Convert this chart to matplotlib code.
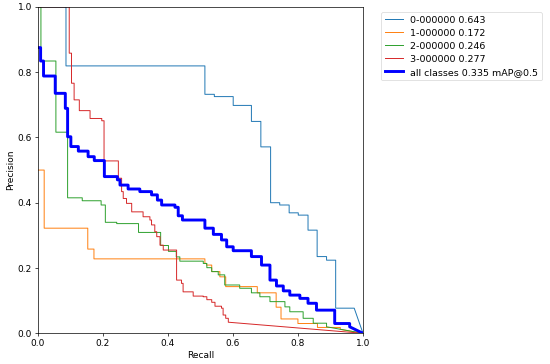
import matplotlib
matplotlib.use('Agg')
import matplotlib.pyplot as plt

# step breakpoints: precision p[i] holds from recall r[i] up to r[i+1]
# every curve ends with a straight segment down to (1, 0)
r0 = [0.0, 0.087, 0.514, 0.543, 0.601, 0.657, 0.686, 0.716, 0.744, 0.773,
      0.801, 0.831, 0.859, 0.888, 0.916, 0.973]
p0 = [1.0, 0.819, 0.732, 0.725, 0.698, 0.649, 0.571, 0.400, 0.393, 0.369,
      0.362, 0.316, 0.235, 0.224, 0.077, 0.077]

r1 = [0.0, 0.020, 0.154, 0.173, 0.514, 0.519, 0.535, 0.560, 0.578, 0.675,
      0.733, 0.748, 0.800, 0.860, 0.930]
p1 = [0.5, 0.322, 0.258, 0.228, 0.214, 0.209, 0.189, 0.173, 0.143, 0.124,
      0.080, 0.044, 0.030, 0.018, 0.012]

r2 = [0.0, 0.010, 0.056, 0.092, 0.137, 0.195, 0.208, 0.243, 0.310, 0.378,
      0.402, 0.426, 0.437, 0.509, 0.520, 0.535, 0.555, 0.575, 0.621, 0.657,
      0.683, 0.714, 0.760, 0.775, 0.816, 0.847, 0.888]
p2 = [1.0, 0.834, 0.616, 0.415, 0.406, 0.393, 0.340, 0.336, 0.309, 0.269,
      0.251, 0.234, 0.221, 0.214, 0.201, 0.189, 0.179, 0.148, 0.138, 0.124,
      0.112, 0.097, 0.081, 0.066, 0.046, 0.031, 0.020]

r3 = [0.0, 0.097, 0.104, 0.112, 0.128, 0.161, 0.197, 0.204, 0.248, 0.258,
      0.263, 0.273, 0.289, 0.324, 0.345, 0.350, 0.360, 0.366, 0.376, 0.386,
      0.427, 0.442, 0.447, 0.478, 0.509, 0.520, 0.535, 0.545, 0.565, 0.570,
      0.578, 0.586]
p3 = [1.0, 0.858, 0.766, 0.715, 0.682, 0.658, 0.651, 0.528, 0.475, 0.434,
      0.413, 0.398, 0.372, 0.357, 0.347, 0.332, 0.311, 0.296, 0.270, 0.255,
      0.163, 0.153, 0.127, 0.114, 0.112, 0.103, 0.095, 0.083, 0.077, 0.056,
      0.046, 0.034]

rm = [0.0, 0.009, 0.018, 0.054, 0.085, 0.092, 0.102, 0.125, 0.155, 0.174,
      0.205, 0.245, 0.253, 0.278, 0.314, 0.350, 0.368, 0.381, 0.422, 0.432,
      0.445, 0.514, 0.540, 0.565, 0.581, 0.601, 0.657, 0.688, 0.714, 0.734,
      0.755, 0.775, 0.806, 0.831, 0.857, 0.913, 0.959]
pm = [0.875, 0.834, 0.788, 0.735, 0.689, 0.602, 0.572, 0.558, 0.541, 0.529,
      0.480, 0.470, 0.454, 0.442, 0.434, 0.424, 0.408, 0.393, 0.386, 0.360,
      0.347, 0.322, 0.303, 0.286, 0.265, 0.253, 0.235, 0.209, 0.163, 0.145,
      0.130, 0.117, 0.107, 0.092, 0.071, 0.030, 0.020]

labels = ['0-000000 0.643', '1-000000 0.172', '2-000000 0.246', '3-000000 0.277']
mean_label = 'all classes 0.335 mAP@0.5'


def stairs(r, p):
	xs, ys = [], []
	for i in range(len(r)):
		if i > 0:
			xs.append(r[i])
			ys.append(p[i - 1])
		xs.append(r[i])
		ys.append(p[i])
	xs.append(1.0)
	ys.append(0.0)
	return xs, ys


fs = 6.5
lfs = 6.8
fig = plt.figure(figsize=(5.5, 3.64), dpi=100)
ax = fig.add_axes([0.0685, 0.0843, 0.5915, 0.8970])

for r, p, lab in zip([r0, r1, r2, r3], [p0, p1, p2, p3], labels):
	xs, ys = stairs(r, p)
	ax.plot(xs, ys, linewidth=0.7, label=lab)
xs, ys = stairs(rm, pm)
ax.plot(xs, ys, linewidth=2.1, color='blue', label=mean_label)

ax.set_xlim(0, 1)
ax.set_ylim(0, 1)
ax.set_xlabel('Recall', fontsize=fs, labelpad=2)
ax.set_ylabel('Precision', fontsize=fs, labelpad=2)
ax.tick_params(labelsize=fs, width=0.5, length=2.1, pad=2)
for s in ax.spines.values():
	s.set_linewidth(0.5)

ax.legend(bbox_to_anchor=(1.04, 1), loc='upper left', fontsize=lfs,
          frameon=True, handlelength=1.9, labelspacing=0.42,
          borderaxespad=0.55)
leg = ax.get_legend()
leg.get_frame().set_linewidth(0.5)

fig.savefig('out.png', dpi=100)
